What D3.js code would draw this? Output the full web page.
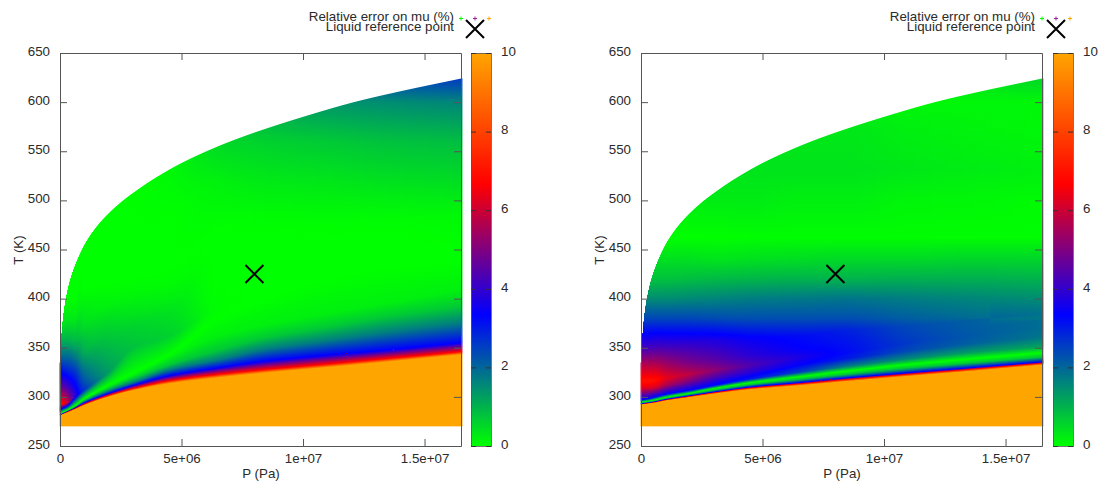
<!DOCTYPE html>
<html><head><meta charset="utf-8">
<style>html,body{margin:0;padding:0;background:#fff}svg{display:block}
text{font-family:"Liberation Sans",Arial,sans-serif;font-size:13.33px;fill:#2a2a2a}</style>
<script src="https://cdn.jsdelivr.net/npm/d3@7"></script></head><body>
<svg id="chart" width="1099" height="484"></svg>
<script>
// ---- axis labels and ticks ----
const xTicks = [0, 5e6, 1e7, 1.5e7];
const xTickLabels = ["0", "5e+06", "1e+07", "1.5e+07"];
const yTicks = [250, 300, 350, 400, 450, 500, 550, 600, 650];
const cbTicks = [0, 2, 4, 6, 8, 10];
const legendTitle = "Relative error on mu (%)";
const legendPoint = "Liquid reference point";
const xLabel = "P (Pa)", yLabel = "T (K)";
const refPoint = [8e6, 425];
const lowerT = 270;
// ---- colour palette ----
const paletteValues = [0, 10 / 3, 20 / 3, 10];
const paletteColors = ["#00ff00", "#0000ff", "#ff0000", "#ffa500"];
// ---- upper limit of the domain (saturation curve), P in MPa, T in K ----
const topP = [0, .02, .05, .1, .2, .4, .7, 1.1, 1.7, 2.5, 3.2, 3.8, 5, 6.6, 8, 10, 12.1, 14, 16.5];
const topT = [335, 350, 361, 376, 395, 418, 439, 459, 479, 498, 511, 521, 538, 556, 569, 585, 600, 611, 624];
// ---- field columns (MPa) ----
const columnsP = [0, .3, .6, 1, 2, 3, 4.5, 6.5, 8.5, 11, 13.5, 16.5];
// ---- left panel: edge of the saturated (10%) zone ----
const leftEdge = [281, 284, 287, 291.5, 300, 306.5, 313.5, 319.5, 324.5, 330, 335.7, 343];
const leftBandLevels = [6.67, 3.33, 1.7, .7, .2, 0];
const leftBandOffsets = [
  [.4, .6, .8, 1, 1.5, 2, 3, 3.5, 3.5, 3.5, 3.5, 3],
  [.8, 1.2, 1.6, 2.5, 3.5, 5, 8, 10, 12, 12.5, 12, 12],
  [1.1, 1.6, 2.2, 3.8, 6, 8, 14, 18, 24, 27, 30, 32],
  [1.4, 2, 2.8, 5, 8.5, 12, 19, 28, 36, 41, 46, 49],
  [1.7, 2.3, 3.3, 6, 10.5, 15, 26, 42, 49, 55, 60, 66],
  [2, 2.6, 3.8, 6.8, 12, 17.6, 29.5, 60, 75, 90, 95, 95]];
const leftUpperT = [
  [292, 294, 300, 307, 325, 350, 362, 390, 410, 432, 440, 445],
  [310, 310, 312, 315, 335, 360, 373, 403, 420, 438, 445, 450],
  [325, 325, 325, 330, 345, 370, 385, 415, 430, 445, 450, 455],
  [341, 340, 340, 345, 375, 385, 400, 440, 450, 460, 465, 470],
  [358, 358, 355, 375, 395, 405, 415, 455, 465, 475, 480, 485],
  [375, 378, 378, 410, 415, 420, 430, 470, 485, 490, 495, 498],
  [395, 400, 400, 440, 450, 460, 480, 520, 520, 520, 520, 520],
  [560, 560, 560, 560, 560, 560, 560, 560, 560, 560, 560, 560],
  [600, 600, 600, 600, 600, 600, 600, 600, 600, 600, 600, 600],
  [640, 640, 640, 640, 640, 640, 640, 640, 640, 640, 640, 640]];
const leftUpperV = [
  [7.3, 6, 4, 2.7, 1.3, .8, .6, .03, 0, 0, 0, 0],
  [4.8, 4.2, 3.4, 2.3, 1.15, .7, .5, .01, 0, 0, 0, 0],
  [3.3, 3, 2.7, 1.7, 1, .6, .4, 0, 0, 0, 0, 0],
  [2, 2, 1.8, 1.1, .5, .35, .2, 0, 0, 0, 0, .05],
  [1, 1, 1, .4, .15, .1, .05, 0, 0, .02, .04, .08],
  [.3, .3, .3, 0, 0, 0, 0, 0, .05, .1, .15, .22],
  [0, 0, 0, 0, 0, 0, 0, .18, .28, .33, .4, .45],
  [0, 0, 0, 0, 0, .02, .15, .5, .6, .7, .8, .85],
  [0, 0, 0, 0, .3, .5, .7, 1, 1.2, 1.4, 1.5, 1.6],
  [1, 1, 1, 1, 1.5, 2, 2.5, 2.8, 3, 3, 3.1, 3.2]];
// ---- right panel ----
const rightEdge = [292, 293, 294, 296, 299.5, 303, 307.5, 311.5, 315.8, 321, 326, 332.5];
const rightBandLevels = [6.67, 3.33, 1.7, .7, 0];
const rightBandOffsets = [
  [.5, .5, .7, .7, 1, 1.2, 1.5, 1.7, 2, 2, 2, 1.7],
  [1, 1, 1.2, 1.3, 1.6, 2, 2.5, 3, 3.5, 3.5, 3.5, 3],
  [1.5, 1.6, 1.8, 2, 2.5, 3, 4, 5, 5.7, 6.3, 6.5, 6],
  [2, 2.1, 2.3, 2.6, 3.2, 4, 5, 6.5, 7.5, 8.5, 8.5, 8],
  [2.5, 2.7, 3, 3.4, 4.2, 5.5, 7, 9, 10.5, 12, 12.5, 12.5]];
const rightUpperT = [
  [297, 298, 300, 302.5, 306.7, 311.5, 318, 325, 331, 338.5, 345, 351],
  [309, 309.5, 310, 312, 316, 320, 325.5, 333, 339, 347, 354, 361],
  [316, 316, 317, 319, 323, 327, 332, 340, 345, 355, 362, 370],
  [330, 330, 331, 332, 335, 338, 342, 348, 355, 363, 370, 378],
  [350, 350, 351, 352, 355, 358, 360, 362, 368, 372, 378, 385],
  [380, 380, 380, 380, 380, 380, 380, 380, 380, 380, 380, 380],
  [400, 400, 400, 400, 400, 400, 400, 400, 400, 400, 400, 400],
  [420, 420, 420, 420, 420, 420, 420, 420, 420, 420, 420, 420],
  [440, 440, 440, 440, 440, 440, 440, 440, 440, 440, 440, 440],
  [462, 462, 462, 462, 462, 462, 462, 462, 462, 462, 462, 462],
  [500, 500, 500, 500, 500, 500, 500, 500, 500, 500, 500, 500],
  [531, 531, 531, 531, 531, 531, 531, 531, 531, 531, 531, 531],
  [575, 575, 575, 575, 575, 575, 575, 575, 575, 575, 575, 575],
  [600, 600, 600, 600, 600, 600, 600, 600, 600, 600, 600, 600],
  [640, 640, 640, 640, 640, 640, 640, 640, 640, 640, 640, 640]];
const rightUpperV = [
  [3.3, 3.3, 3.3, 3.3, 3.3, 3.2, 3, 2.5, 1.7, 1.5, 1.3, 1.2],
  [6.3, 6.3, 6.2, 5.7, 5, 4.4, 3.9, 3.4, 3, 2.4, 2.1, 1.8],
  [7, 7, 6.9, 6.4, 5.8, 5.2, 4.4, 3.7, 3.2, 2.6, 2.2, 1.9],
  [5.9, 5.9, 5.8, 5.5, 4.9, 4.5, 3.9, 3.4, 3.1, 2.5, 2.15, 1.9],
  [4.2, 4.2, 4.2, 4.1, 3.9, 3.7, 3.4, 3.2, 2.9, 2.4, 2.1, 1.85],
  [2.4, 2.4, 2.4, 2.4, 2.4, 2.35, 2.3, 2.3, 2.3, 2.1, 1.95, 1.75],
  [1.5, 1.5, 1.5, 1.5, 1.55, 1.6, 1.7, 1.75, 1.8, 1.7, 1.6, 1.5],
  [.8, .8, .8, .8, .85, .9, .95, 1, 1, 1.05, 1.05, 1],
  [.4, .4, .4, .4, .4, .35, .4, .45, .5, .5, .55, .55],
  [0, 0, 0, 0, 0, 0, .02, .03, .03, .03, .03, .03],
  [.25, .25, .25, .25, .25, .25, .25, .2, .2, .12, .1, .05],
  [.35, .35, .35, .35, .35, .35, .35, .35, .35, .3, .25, .2],
  [.3, .3, .3, .3, .3, .3, .3, .3, .3, .2, .15, .1],
  [.2, .2, .2, .2, .2, .2, .2, .2, .2, .12, .1, .1],
  [.5, .5, .5, .5, .5, .5, .5, .5, .5, .5, .6, .8]];

// ---- drawing ----
const color = d3.scaleLinear().domain(paletteValues).range(paletteColors).clamp(true);
const svg = d3.select("#chart"), defs = svg.append("defs");
const MPa = 1e6;

function monotone(xs, ys) {           // smooth curve through the read values
  const n = xs.length, d = [], m = [];
  for (let i = 0; i < n - 1; i++) d[i] = (ys[i + 1] - ys[i]) / (xs[i + 1] - xs[i]);
  m[0] = d[0]; m[n - 1] = d[n - 2];
  for (let i = 1; i < n - 1; i++) m[i] = d[i - 1] * d[i] <= 0 ? 0 : 2 * d[i - 1] * d[i] / (d[i - 1] + d[i]);
  return x => {
    x = Math.max(xs[0], Math.min(xs[n - 1], x));
    const i = Math.min(n - 2, Math.max(0, d3.bisectRight(xs, x) - 1));
    const h = xs[i + 1] - xs[i], t = (x - xs[i]) / h, t2 = t * t, t3 = t2 * t;
    return (2 * t3 - 3 * t2 + 1) * ys[i] + (t3 - 2 * t2 + t) * h * m[i] + (-2 * t3 + 3 * t2) * ys[i + 1] + (t3 - t2) * h * m[i + 1];
  };
}
const topCurve = monotone(topP, topT);

function panel(id, x0, cbX, edge, bandLevels, bandOffsets, upperT, upperV) {
  const x = d3.scaleLinear().domain([0, 16.5e6]).range([x0, x0 + 401]);
  const y = d3.scaleLinear().domain([250, 650]).range([446, 53]);
  const edgeF = monotone(columnsP, edge);
  const offF = bandOffsets.map(r => monotone(columnsP, r));
  const tF = upperT.map(r => monotone(columnsP, r));
  const vF = upperV.map(r => monotone(columnsP, r));
  const g = svg.append("g");

  const cols = d3.range(x0 - 1, x0 + 403);
  cols.forEach(px => {
    const p = x.invert(px + .5) / MPa, e = edgeF(p);
    let stops = [[lowerT, 10], [e, 10]];
    bandLevels.forEach((lv, i) => stops.push([e + offF[i](p), lv]));
    tF.forEach((f, i) => stops.push([f(p), Math.max(0, vF[i](p))]));
    stops.sort((a, b) => a[0] - b[0]);
    const all = [];
    stops.forEach((s, i) => {
      all.push(s);
      const n = stops[i + 1];
      if (n) [10 / 3, 20 / 3].forEach(k => {
        if ((s[1] - k) * (n[1] - k) < 0) all.push([s[0] + (n[0] - s[0]) * (k - s[1]) / (n[1] - s[1]), k]);
      });
    });
    const gid = id + "c" + px;
    const yA = y(lowerT), yB = y(640);
    const lg = defs.append("linearGradient").attr("id", gid).attr("gradientUnits", "userSpaceOnUse")
      .attr("x1", 0).attr("x2", 0).attr("y1", yA).attr("y2", yB);
    lg.selectAll("stop").data(all).join("stop")
      .attr("offset", d => (y(d[0]) - yA) / (yB - yA)).attr("stop-color", d => color(d[1]));
    const yt = y(topCurve(p));
    g.append("rect").attr("x", px).attr("width", 1).attr("y", yt).attr("height", yA - yt)
      .attr("fill", `url(#${gid})`).attr("opacity", (px < x0 || px > x0 + 401) ? .45 : 1);
  });

  // axes with inward ticks on all four sides
  const bx = d3.axisBottom(x).tickValues(xTicks).tickFormat((d, i) => xTickLabels[i]).tickSizeInner(-7).tickSizeOuter(0).tickPadding(8);
  const tx = d3.axisTop(x).tickValues(xTicks).tickFormat("").tickSizeInner(-7).tickSizeOuter(0);
  const ly = d3.axisLeft(y).tickValues(yTicks).tickSizeInner(-7).tickSizeOuter(0).tickPadding(10);
  const ry = d3.axisRight(y).tickValues(yTicks).tickFormat("").tickSizeInner(-7).tickSizeOuter(0);
  const styleAxis = s => { s.selectAll("path,line").attr("stroke", "#555"); s.selectAll("text").attr("fill", "#2a2a2a"); };
  g.append("g").attr("transform", "translate(0,446)").call(bx).call(styleAxis).selectAll("text").style("font-size", "13.33px");
  g.append("g").attr("transform", "translate(0,53)").call(tx).call(styleAxis);
  g.append("g").attr("transform", `translate(${x0},0)`).call(ly).call(styleAxis).selectAll("text").style("font-size", "13.33px").attr("dy", "0.17em");
  g.append("g").attr("transform", `translate(${x0 + 401},0)`).call(ry).call(styleAxis);

  g.append("text").attr("x", x0 + 201).attr("y", 478).attr("text-anchor", "middle").text(xLabel);
  g.append("text").attr("transform", `translate(${x0 - 37},250) rotate(-90)`).attr("text-anchor", "middle").text(yLabel);

  // reference point
  const cross = (cx, cy) => g.append("path").attr("d", `M${cx - 9},${cy - 9}L${cx + 9},${cy + 9}M${cx - 9},${cy + 9}L${cx + 9},${cy - 9}`)
    .attr("stroke", "#000").attr("stroke-width", 2).attr("fill", "none");
  cross(x(refPoint[0]), y(refPoint[1]));

  // legend
  const lx = x0 + 394, sx = x0 + 415;
  g.append("text").attr("x", lx).attr("y", 21).attr("text-anchor", "end").text(legendTitle);
  g.append("text").attr("x", lx).attr("y", 31).attr("text-anchor", "end").text(legendPoint);
  [[sx - 14, paletteColors[0]], [sx, "#a020a0"], [sx + 14, paletteColors[3]]].forEach(([px, c]) =>
    g.append("path").attr("d", `M${px - 2},18.5h4M${px},16.5v4`).attr("stroke", c).attr("fill", "none"));
  cross(sx, 29);

  // colour box
  const cy = d3.scaleLinear().domain([0, 10]).range([446, 53]);
  const cg = defs.append("linearGradient").attr("id", id + "cb").attr("gradientUnits", "userSpaceOnUse")
    .attr("x1", 0).attr("x2", 0).attr("y1", 446).attr("y2", 53);
  cg.selectAll("stop").data(paletteValues).join("stop")
    .attr("offset", d => d / 10).attr("stop-color", d => color(d));
  g.append("rect").attr("x", cbX).attr("y", 53).attr("width", 20).attr("height", 393).attr("fill", `url(#${id}cb)`);
  g.append("rect").attr("x", cbX + .5).attr("y", 53.5).attr("width", 20).attr("height", 393)
    .attr("fill", "none").attr("stroke", "#555").attr("stroke-opacity", .8);
  const cAxis = d3.axisRight(cy).tickValues(cbTicks).tickSizeInner(-5).tickSizeOuter(0).tickPadding(10).tickFormat(d3.format("d"));
  const cAxisL = d3.axisLeft(cy).tickValues(cbTicks).tickSizeInner(-5).tickSizeOuter(0).tickFormat("");
  const ca = g.append("g").attr("transform", `translate(${cbX + 20},0)`).call(cAxis);
  ca.select("path").remove(); ca.selectAll("line").attr("stroke", "#333");
  ca.selectAll("text").style("font-size", "13.33px").attr("fill", "#2a2a2a").attr("dy", "0.17em");
  const cb = g.append("g").attr("transform", `translate(${cbX},0)`).call(cAxisL);
  cb.select("path").remove(); cb.selectAll("line").attr("stroke", "#333");
}

panel("L", 60, 471, leftEdge, leftBandLevels, leftBandOffsets, leftUpperT, leftUpperV);
panel("R", 641, 1053, rightEdge, rightBandLevels, rightBandOffsets, rightUpperT, rightUpperV);
</script></body></html>
